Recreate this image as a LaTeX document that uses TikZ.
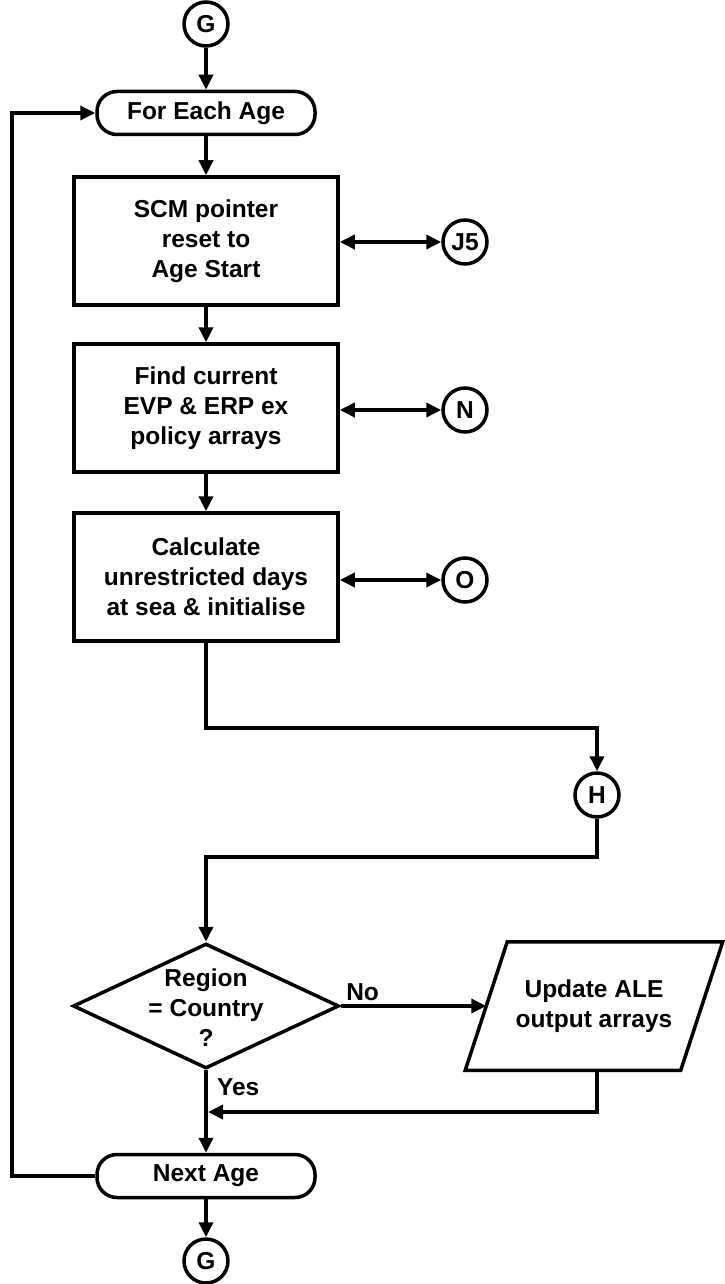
\documentclass[tikz,border=0pt]{standalone}
\usepackage{fontspec}
\setmainfont{Liberation Sans}
\usetikzlibrary{arrows.meta,shapes.geometric}
\begin{document}
\begin{tikzpicture}[x=1pt,y=-1pt,
  line width=3.5pt,
  every node/.style={font=\bfseries\fontsize{24.5}{30}\selectfont, align=center},
  conn/.style={circle, draw, minimum size=44pt, inner sep=0pt},
  term/.style={draw, rounded corners=20pt, minimum width=218pt, minimum height=43pt, inner sep=0pt},
  proc/.style={draw, minimum width=264pt, minimum height=128pt, inner sep=0pt},
  flow/.style={-{Triangle[length=15pt,width=14pt]}},
  both/.style={{Triangle[length=15pt,width=14pt]}-{Triangle[length=15pt,width=14pt]}},
  lbl/.style={font=\bfseries\fontsize{24.5}{30}\selectfont}
]
\useasboundingbox (0,0) rectangle (724,1284);

\node[conn] (g1) at (206,24) {G};
\node[term] (fea) at (206,113) {For Each Age};
\node[proc] (b1) at (206,241) {SCM pointer\\reset to\\Age Start};
\node[proc] (b2) at (206,408) {Find current\\EVP \& ERP ex\\policy arrays};
\node[proc] (b3) at (206,577) {Calculate\\unrestricted days\\at sea \& initialise};
\node[conn] (j5) at (465,242) {J5};
\node[conn] (n) at (465,410) {N};
\node[conn] (o) at (465,580) {O};
\node[conn] (h) at (597,795) {H};

\node[diamond, draw, minimum width=266pt, minimum height=125pt, inner sep=0pt] (d) at (206,1006) {};
\node at (206,1008) {Region\\= Country\\?};

\node[minimum width=212pt, minimum height=125pt, inner sep=0pt] (pa) at (594,1006) {Update ALE\\output arrays};
\draw ([xshift=21pt]pa.north west) -- ([xshift=21pt]pa.north east) -- ([xshift=-21pt]pa.south east) -- ([xshift=-21pt]pa.south west) -- cycle;

\node[term] (na) at (206,1176) {Next Age};
\node[conn] (g2) at (206,1261) {G};

\coordinate (c1) at (206,728);
\coordinate (c2) at (597,728);
\coordinate (c3) at (597,857);
\coordinate (c4) at (206,857);
\coordinate (m1) at (597,1112);
\coordinate (m2) at (208,1112);
\coordinate (l1) at (12,1176);
\coordinate (l2) at (12,113);

\draw[flow] (g1) -- (fea);
\draw[flow] (fea) -- (b1);
\draw[flow] (b1) -- (b2);
\draw[flow] (b2) -- (b3);
\draw[both] (b1.east |- j5) -- (j5);
\draw[both] (b2.east |- n) -- (n);
\draw[both] (b3.east |- o) -- (o);
\draw[flow] (b3.south) -- (c1) -- (c2) -- (h);
\draw[flow] (h) -- (c3) -- (c4) -- (d.north);
\draw[flow] (d.east) -- (pa.west) node[pos=0.15, above=0pt, lbl] {No};
\draw[flow] (d.south) -- (na.north) node[pos=0.2, right=6pt, lbl] {Yes};
\draw[flow] (pa.south -| m1) -- (m1) -- (m2);
\draw[flow] (na.west) -- (l1) -- (l2) -- (fea.west);
\draw[flow] (na) -- (g2);
\end{tikzpicture}
\end{document}
